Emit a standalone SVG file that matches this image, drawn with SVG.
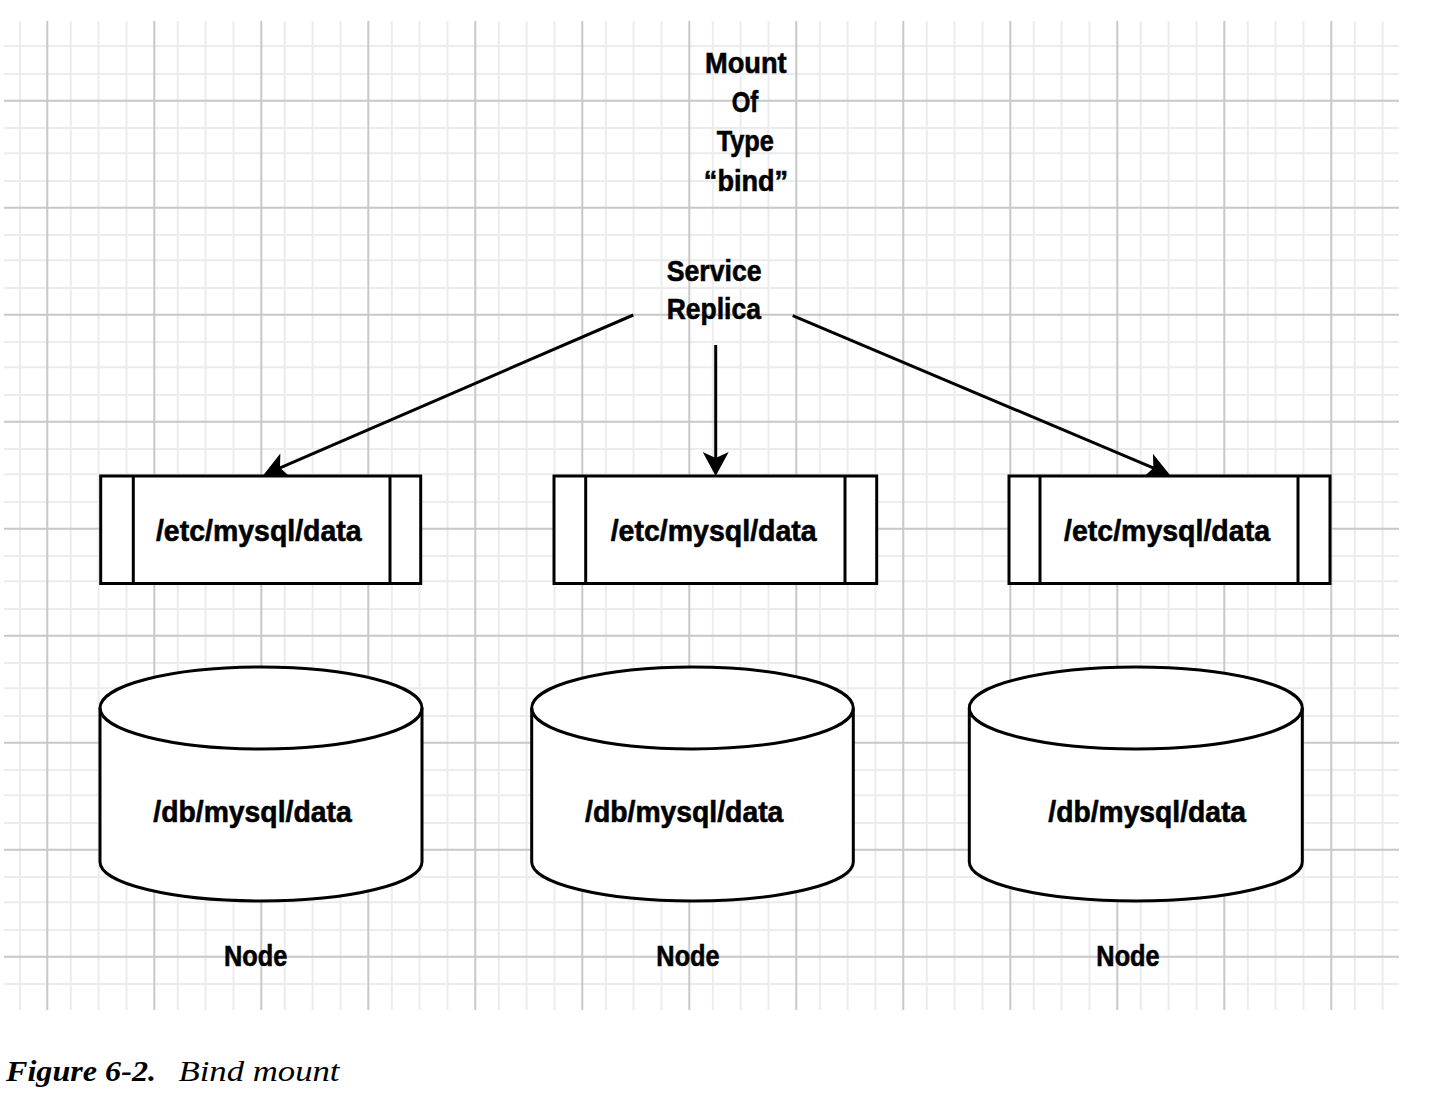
<svg xmlns="http://www.w3.org/2000/svg" width="1432" height="1104" viewBox="0 0 1432 1104">
<style>
.minor{stroke:#ececec;stroke-width:2;fill:none}
.major{stroke:#c8c8c8;stroke-width:2;fill:none}
.shape{stroke:#000;stroke-width:3;fill:#fff}
.edge{stroke:#000;stroke-width:3;fill:none}
.lbl{font-family:"Liberation Sans Narrow","Liberation Sans",Arial,sans-serif;font-weight:bold;font-size:30px;fill:#000;stroke:#000;stroke-width:0.6;text-anchor:middle}
.cap{font-family:"Liberation Serif","Times New Roman",serif;font-size:30px;fill:#000;font-style:italic}
</style>
<defs>
<marker id="ah" markerUnits="userSpaceOnUse" markerWidth="40" markerHeight="40" viewBox="-20 -20 40 40" refX="0" refY="0" orient="auto">
<path d="M8,0 L-16,-13 L-10,0 L-16,13 Z" fill="#000"/>
</marker>
</defs>
<rect width="1432" height="1104" fill="#fff"/>
<g id="grid">
<path class="minor" d="M20,21V1010 M70.8,21V1010 M98.6,21V1010 M126.5,21V1010 M177.8,21V1010 M205.6,21V1010 M233.5,21V1010 M284.8,21V1010 M312.6,21V1010 M340.5,21V1010 M391.8,21V1010 M419.6,21V1010 M447.5,21V1010 M498.8,21V1010 M526.6,21V1010 M554.5,21V1010 M605.8,21V1010 M633.6,21V1010 M661.5,21V1010 M712.8,21V1010 M740.6,21V1010 M768.5,21V1010 M819.8,21V1010 M847.6,21V1010 M875.5,21V1010 M926.8,21V1010 M954.6,21V1010 M982.5,21V1010 M1033.8,21V1010 M1061.6,21V1010 M1089.5,21V1010 M1140.8,21V1010 M1168.6,21V1010 M1196.5,21V1010 M1247.8,21V1010 M1275.6,21V1010 M1303.5,21V1010 M1354.8,21V1010 M1382.6,21V1010"/>
<path class="minor" d="M4,46H1399 M4,74H1399 M4,128H1399 M4,153.3H1399 M4,181H1399 M4,235H1399 M4,260.3H1399 M4,288H1399 M4,342H1399 M4,367.3H1399 M4,395H1399 M4,449H1399 M4,474.3H1399 M4,502H1399 M4,556H1399 M4,581.3H1399 M4,609H1399 M4,663H1399 M4,688.3H1399 M4,716H1399 M4,770H1399 M4,795.3H1399 M4,823H1399 M4,877H1399 M4,902.3H1399 M4,930H1399 M4,984H1399"/>
<path class="major" d="M47.3,21V1010 M154.3,21V1010 M261.3,21V1010 M368.3,21V1010 M475.3,21V1010 M582.3,21V1010 M689.3,21V1010 M796.3,21V1010 M903.3,21V1010 M1010.3,21V1010 M1117.3,21V1010 M1224.3,21V1010 M1331.3,21V1010"/>
<path class="major" d="M4,100.7H1399 M4,207.7H1399 M4,314.7H1399 M4,421.7H1399 M4,528.7H1399 M4,635.7H1399 M4,742.7H1399 M4,849.7H1399 M4,956.7H1399"/>
</g>
<g id="mount-label">
<text class="lbl" x="745.8" y="73.3" textLength="81.7" lengthAdjust="spacingAndGlyphs">Mount</text>
<text class="lbl" x="745" y="112" textLength="26.6" lengthAdjust="spacingAndGlyphs">Of</text>
<text class="lbl" x="745.3" y="151" textLength="57.3" lengthAdjust="spacingAndGlyphs">Type</text>
<text class="lbl" x="746" y="190.5" textLength="84.3" lengthAdjust="spacingAndGlyphs">“bind”</text>
</g>
<g id="service-replica">
<text class="lbl" x="714.2" y="280.7" textLength="95" lengthAdjust="spacingAndGlyphs">Service</text>
<text class="lbl" x="713.8" y="319.3" textLength="94.3" lengthAdjust="spacingAndGlyphs">Replica</text>
</g>
<g id="connectors">
<path class="edge" d="M633.3,315 L270.8,471.8" marker-end="url(#ah)"/>
<path class="edge" d="M715.7,345 L715.7,468" marker-end="url(#ah)"/>
<path class="edge" d="M792.7,315.7 L1162.6,471.9" marker-end="url(#ah)"/>
</g>
<g id="mount1">
<rect class="shape" x="100.7" y="476" width="320" height="107.5"/>
<path class="edge" d="M133.3,476V583.5 M390,476V583.5"/>
<text class="lbl" x="258.8" y="540.5" textLength="205.7" lengthAdjust="spacingAndGlyphs">/etc/mysql/data</text>
</g>
<g id="mount2">
<rect class="shape" x="554" y="476" width="322.7" height="107.5"/>
<path class="edge" d="M585.7,476V583.5 M845,476V583.5"/>
<text class="lbl" x="713.7" y="540.5" textLength="206" lengthAdjust="spacingAndGlyphs">/etc/mysql/data</text>
</g>
<g id="mount3">
<rect class="shape" x="1009" y="476" width="321" height="107.5"/>
<path class="edge" d="M1040,476V583.5 M1298,476V583.5"/>
<text class="lbl" x="1167" y="540.5" textLength="206" lengthAdjust="spacingAndGlyphs">/etc/mysql/data</text>
</g>
<g id="node1">
<path class="shape" d="M100,708 V862 A161,39 0 0 0 422,862 V708 A161,41 0 0 0 100,708 Z"/>
<path class="edge" d="M100,708 A161,41 0 0 0 422,708"/>
<text class="lbl" x="252.5" y="821.7" textLength="198.3" lengthAdjust="spacingAndGlyphs">/db/mysql/data</text>
<text class="lbl" x="255.7" y="966" textLength="63.3" lengthAdjust="spacingAndGlyphs">Node</text>
</g>
<g id="node2">
<path class="shape" d="M531.7,708 V862 A160.8,39 0 0 0 853.3,862 V708 A160.8,41 0 0 0 531.7,708 Z"/>
<path class="edge" d="M531.7,708 A160.8,41 0 0 0 853.3,708"/>
<text class="lbl" x="684.2" y="821.7" textLength="198.3" lengthAdjust="spacingAndGlyphs">/db/mysql/data</text>
<text class="lbl" x="688" y="966" textLength="63.3" lengthAdjust="spacingAndGlyphs">Node</text>
</g>
<g id="node3">
<path class="shape" d="M969.3,708 V862 A166.5,39 0 0 0 1302.3,862 V708 A166.5,41 0 0 0 969.3,708 Z"/>
<path class="edge" d="M969.3,708 A166.5,41 0 0 0 1302.3,708"/>
<text class="lbl" x="1147.2" y="821.7" textLength="197.7" lengthAdjust="spacingAndGlyphs">/db/mysql/data</text>
<text class="lbl" x="1128" y="966" textLength="63.3" lengthAdjust="spacingAndGlyphs">Node</text>
</g>
<g id="caption">
<text class="cap" x="6" y="1081" font-weight="bold" textLength="150" lengthAdjust="spacingAndGlyphs">Figure 6-2.</text>
<text class="cap" x="178.5" y="1081" textLength="161" lengthAdjust="spacingAndGlyphs">Bind mount</text>
</g>
</svg>
